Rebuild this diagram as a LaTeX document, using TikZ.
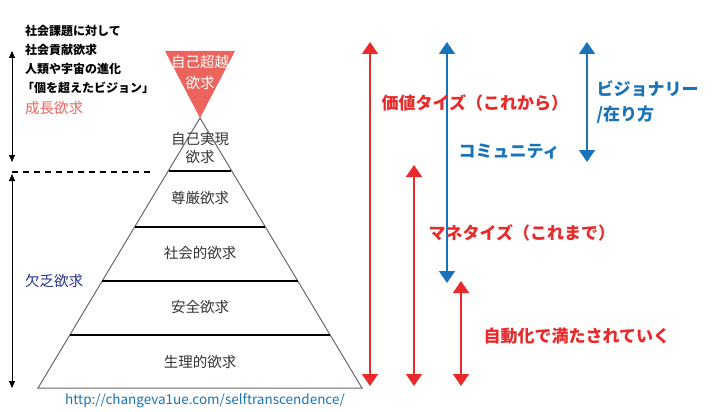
\documentclass[tikz,border=0pt]{standalone}
\usepackage{fontspec}
\setmainfont{Noto Sans CJK JP}
\usetikzlibrary{arrows.meta}
\definecolor{kred}{RGB}{232,42,42}
\definecolor{kblue}{RGB}{25,115,185}
\definecolor{tipred}{RGB}{236,100,92}
\definecolor{knavy}{RGB}{40,50,140}
\tikzset{
	redarr/.style={kred,line width=1.6pt,{Triangle[width=16pt,length=12pt]}-{Triangle[width=16pt,length=12pt]}},
	bluearr/.style={kblue,line width=1.6pt,{Triangle[width=16pt,length=12pt]}-{Triangle[width=16pt,length=12pt]}},
	blackarr/.style={black,line width=0.8pt,{Triangle[width=6pt,length=7pt]}-{Triangle[width=6pt,length=7pt]}},
	lvl/.style={font=\fontsize{14.5}{18}\selectfont,text=black!80},
	lbl/.style={anchor=west,font=\bfseries\fontsize{17}{25}\selectfont},
	note/.style={anchor=west,font=\bfseries\fontsize{12}{14}\selectfont,inner sep=0pt}
}
\begin{document}
\begin{tikzpicture}[x=1pt,y=-1pt]
	\useasboundingbox (0,0) rectangle (720,412);
	% pyramid
	\fill[tipred] (165,51) -- (235,51) -- (200,118) -- cycle;
	\draw[black!60,line width=1pt] (200,118) -- (38,388) -- (362,388) -- cycle;
	\draw[line width=1.4pt] (169,171) -- (231,171);
	\foreach \y in {227,281,335}
	{
		\pgfmathsetmacro{\dx}{0.6*(\y-118)}
		\draw[line width=1.2pt] (200-\dx,\y) -- (200+\dx,\y);
	}
	\node[lvl,text=white,align=center,font=\fontsize{14.5}{21}\selectfont] (self) at (200,72) {自己超越\\欲求};
	\node[lvl,align=center] (actual) at (200,148) {自己実現\\欲求};
	\node[lvl] (esteem) at (200,198) {尊厳欲求};
	\node[lvl] (social) at (200,253) {社会的欲求};
	\node[lvl] (safety) at (200,307) {安全欲求};
	\node[lvl] (body) at (200,362) {生理的欲求};
	\node[font=\fontsize{13.5}{15}\selectfont,text=kblue] (url) at (205,401) {http://changeva1ue.com/selftranscendence/};
	% left side
	\coordinate (g1) at (12,51);
	\coordinate (g2) at (12,162);
	\coordinate (d1) at (12,174);
	\coordinate (d2) at (12,388);
	\draw[blackarr] (g1) -- (g2);
	\draw[blackarr] (d1) -- (d2);
	\draw[line width=1.6pt,dash pattern=on 6pt off 5pt] (12,172) -- (150,172);
	\node[note] (n1) at (25,31) {社会課題に対して};
	\node[note] (n2) at (25,50) {社会貢献欲求};
	\node[note] (n3) at (25,69) {人類や宇宙の進化};
	\node[note] (n4) at (22,88) {「個を超えたビジョン」};
	\node[anchor=west,inner sep=0pt,text=tipred,font=\fontsize{14.5}{16}\selectfont] (grow) at (25,108) {成長欲求};
	\node[anchor=west,inner sep=0pt,text=knavy,font=\fontsize{14.5}{16}\selectfont] (lack) at (25,281) {欠乏欲求};
	% right arrows
	\coordinate (a1) at (370,42);  \coordinate (a2) at (370,386);
	\coordinate (b1) at (447,42);  \coordinate (b2) at (447,283);
	\coordinate (c1) at (587,42);  \coordinate (c2) at (587,162);
	\coordinate (e1) at (414,165); \coordinate (e2) at (414,386);
	\coordinate (f1) at (461,281); \coordinate (f2) at (461,386);
	\draw[redarr] (a1) -- (a2);
	\draw[bluearr] (b1) -- (b2);
	\draw[bluearr] (c1) -- (c2);
	\draw[redarr] (e1) -- (e2);
	\draw[redarr] (f1) -- (f2);
	\node[lbl,text=kred] (value) at (378,103) {価値タイズ（これから）};
	\node[lbl,text=kblue] (comm) at (455,152) {コミュニティ};
	\node[lbl,text=kblue,align=left] (vision) at (593,102) {ビジョナリー\\/在り方};
	\node[lbl,text=kred] (money) at (425,233) {マネタイズ（これまで）};
	\node[lbl,text=kred] (auto) at (480,336) {自動化で満たされていく};
\end{tikzpicture}
\end{document}
